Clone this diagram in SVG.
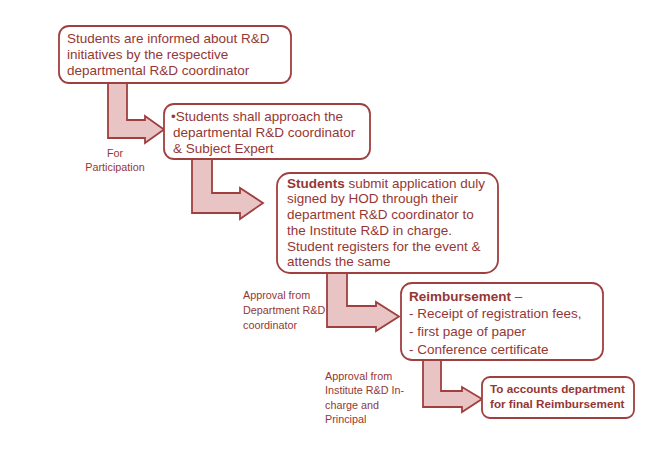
<svg xmlns="http://www.w3.org/2000/svg" width="659" height="457" viewBox="0 0 659 457">
<style>
.box{fill:#ffffff;stroke:#a03f3f;stroke-width:1.8}
.arr{fill:#e8c4c4;stroke:#a03f3f;stroke-width:1.8;stroke-linejoin:miter}
.t{font-family:"Liberation Sans",Arial,sans-serif;font-size:13.5px;fill:#953735}
.s{font-family:"Liberation Sans",Arial,sans-serif;font-size:10.8px;fill:#953735}
.b{font-weight:bold}
</style>
<rect width="659" height="457" fill="#ffffff"/>
<g id="connectors">
<path class="arr" d="M108,83 L127,83 L127,120 L145,120 L145,116 L164,129.5 L145,143 L145,138 L108,138 Z"/>
<path class="arr" d="M192,159 L212,159 L212,193 L240,193 L240,188 L263,203 L240,219 L240,213 L192,213 Z"/>
<path class="arr" d="M327,273 L347,273 L347,306 L376,306 L376,302 L399,316.5 L376,331 L376,327 L327,327 Z"/>
<path class="arr" d="M423,360 L441,360 L441,391 L462,391 L462,387 L482,399 L462,412 L462,407 L423,407 Z"/>
<text class="s" text-anchor="middle"><tspan x="115" y="157">For</tspan><tspan x="115" y="171">Participation</tspan></text>
<text class="s"><tspan x="243" y="299">Approval from</tspan><tspan x="243" y="314">Department R&amp;D</tspan><tspan x="243" y="329">coordinator</tspan></text>
<text class="s"><tspan x="325" y="380">Approval from</tspan><tspan x="325" y="394">Institute R&amp;D In-</tspan><tspan x="325" y="409">charge and</tspan><tspan x="325" y="423">Principal</tspan></text>
</g>
<g id="node1">
<rect class="box" x="59" y="26" width="232" height="57" rx="10"/>
<text class="t"><tspan x="67" y="43">Students are informed about R&amp;D</tspan><tspan x="67" y="59">initiatives by the respective</tspan><tspan x="67" y="75">departmental R&amp;D coordinator</tspan></text>
</g>
<g id="node2">
<rect class="box" x="164" y="104" width="206" height="55" rx="10"/>
<text class="t"><tspan x="171" y="121">•Students shall approach the</tspan><tspan x="173" y="137">departmental R&amp;D coordinator</tspan><tspan x="173" y="153">&amp; Subject Expert</tspan></text>
</g>
<g id="node3">
<rect class="box" x="277" y="173" width="221" height="100" rx="13"/>
<text class="t"><tspan x="287" y="188"><tspan class="b">Students</tspan> submit application duly</tspan><tspan x="287" y="203">signed by HOD through their</tspan><tspan x="287" y="219">department R&amp;D coordinator to</tspan><tspan x="287" y="235">the Institute R&amp;D in charge.</tspan><tspan x="287" y="251">Student registers for the event &amp;</tspan><tspan x="287" y="266">attends the same</tspan></text>
</g>
<g id="node4">
<rect class="box" x="401" y="283" width="202" height="77" rx="11"/>
<text class="t"><tspan x="409" y="301" class="b">Reimbursement</tspan><tspan> –</tspan><tspan x="409" y="318">- Receipt of registration fees,</tspan><tspan x="409" y="336">- first page of paper</tspan><tspan x="409" y="354">- Conference certificate</tspan></text>
</g>
<g id="node5">
<rect class="box" x="482" y="377" width="152" height="41" rx="8"/>
<text class="t b" style="font-size:11.7px"><tspan x="490" y="393">To accounts department</tspan><tspan x="490" y="408">for final Reimbursement</tspan></text>
</g>
</svg>
